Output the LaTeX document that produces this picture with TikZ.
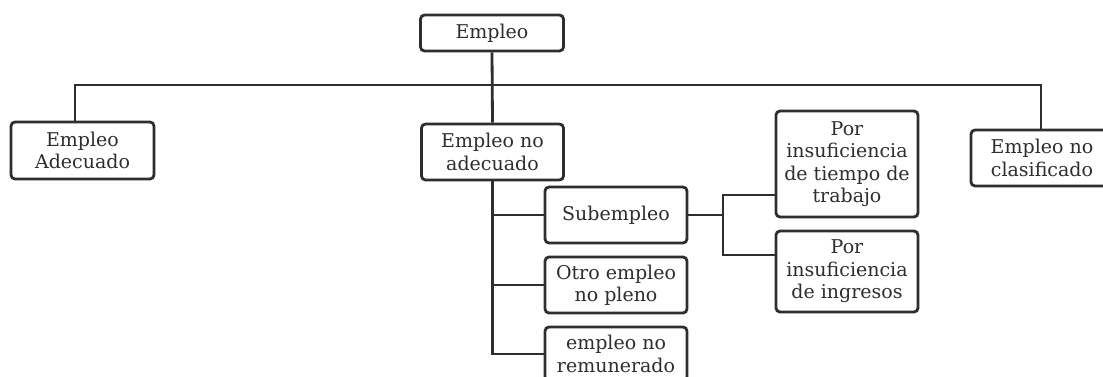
\documentclass[tikz,border=0pt]{standalone}
\usepackage{fontspec}
\setmainfont{DejaVu Serif}
\begin{document}
\begin{tikzpicture}[x=1pt,y=-1pt,
  box/.style={draw=ink, line width=2.8pt, rounded corners=4pt, fill=white, text=ink,
    align=center, inner sep=0pt, minimum width=142pt,
    font=\fontsize{19}{22.5}\selectfont},
  link/.style={draw=ink, line width=2.8pt}]
\definecolor{ink}{HTML}{2E2E2E}
\useasboundingbox (0,0) rectangle (1103,376);
\node[box, minimum width=143pt, minimum height=36pt] (top) at (492,33) {Empleo};
\node[box, minimum width=143pt, minimum height=57pt] (adq) at (82.5,150.5) {Empleo\\Adecuado};
\node[box, minimum height=56pt] (noadq) at (492.5,152) {Empleo no\\adecuado};
\node[box, minimum height=56pt] (sub) at (616,215) {Subempleo};
\node[box, minimum height=56pt] (otro) at (616,285) {Otro empleo\\no pleno};
\node[box, minimum height=54pt] (rem) at (616,354) {empleo no\\remunerado};
\node[box, minimum height=106pt] (tiempo) at (847,164) {Por\\insuficiencia\\de tiempo de\\trabajo};
\node[box, minimum height=81pt] (ingr) at (847,271.5) {Por\\insuficiencia\\de ingresos};
\node[box, minimum height=56pt] (nocl) at (1042,158) {Empleo no\\clasificado};
\coordinate (hl) at (75,85);
\coordinate (hr) at (1041,85);
\coordinate (hm) at (492.5,85);
\coordinate (sj) at (723,215);
\draw[link] (top.south) -- (noadq.north);
\draw[link] (adq.north -| hl) |- (hm) -| (nocl.north -| hr);
\draw[link] (noadq.south) |- (rem.west);
\draw[link] (noadq.south |- sub.west) -- (sub.west);
\draw[link] (noadq.south |- otro.west) -- (otro.west);
\draw[link] (sub.east) -- (sj);
\draw[link] (tiempo.west |- 0,195) -| (sj |- 0,195) -- (sj |- 0,255) -- (ingr.west |- 0,255);
\end{tikzpicture}
\end{document}
